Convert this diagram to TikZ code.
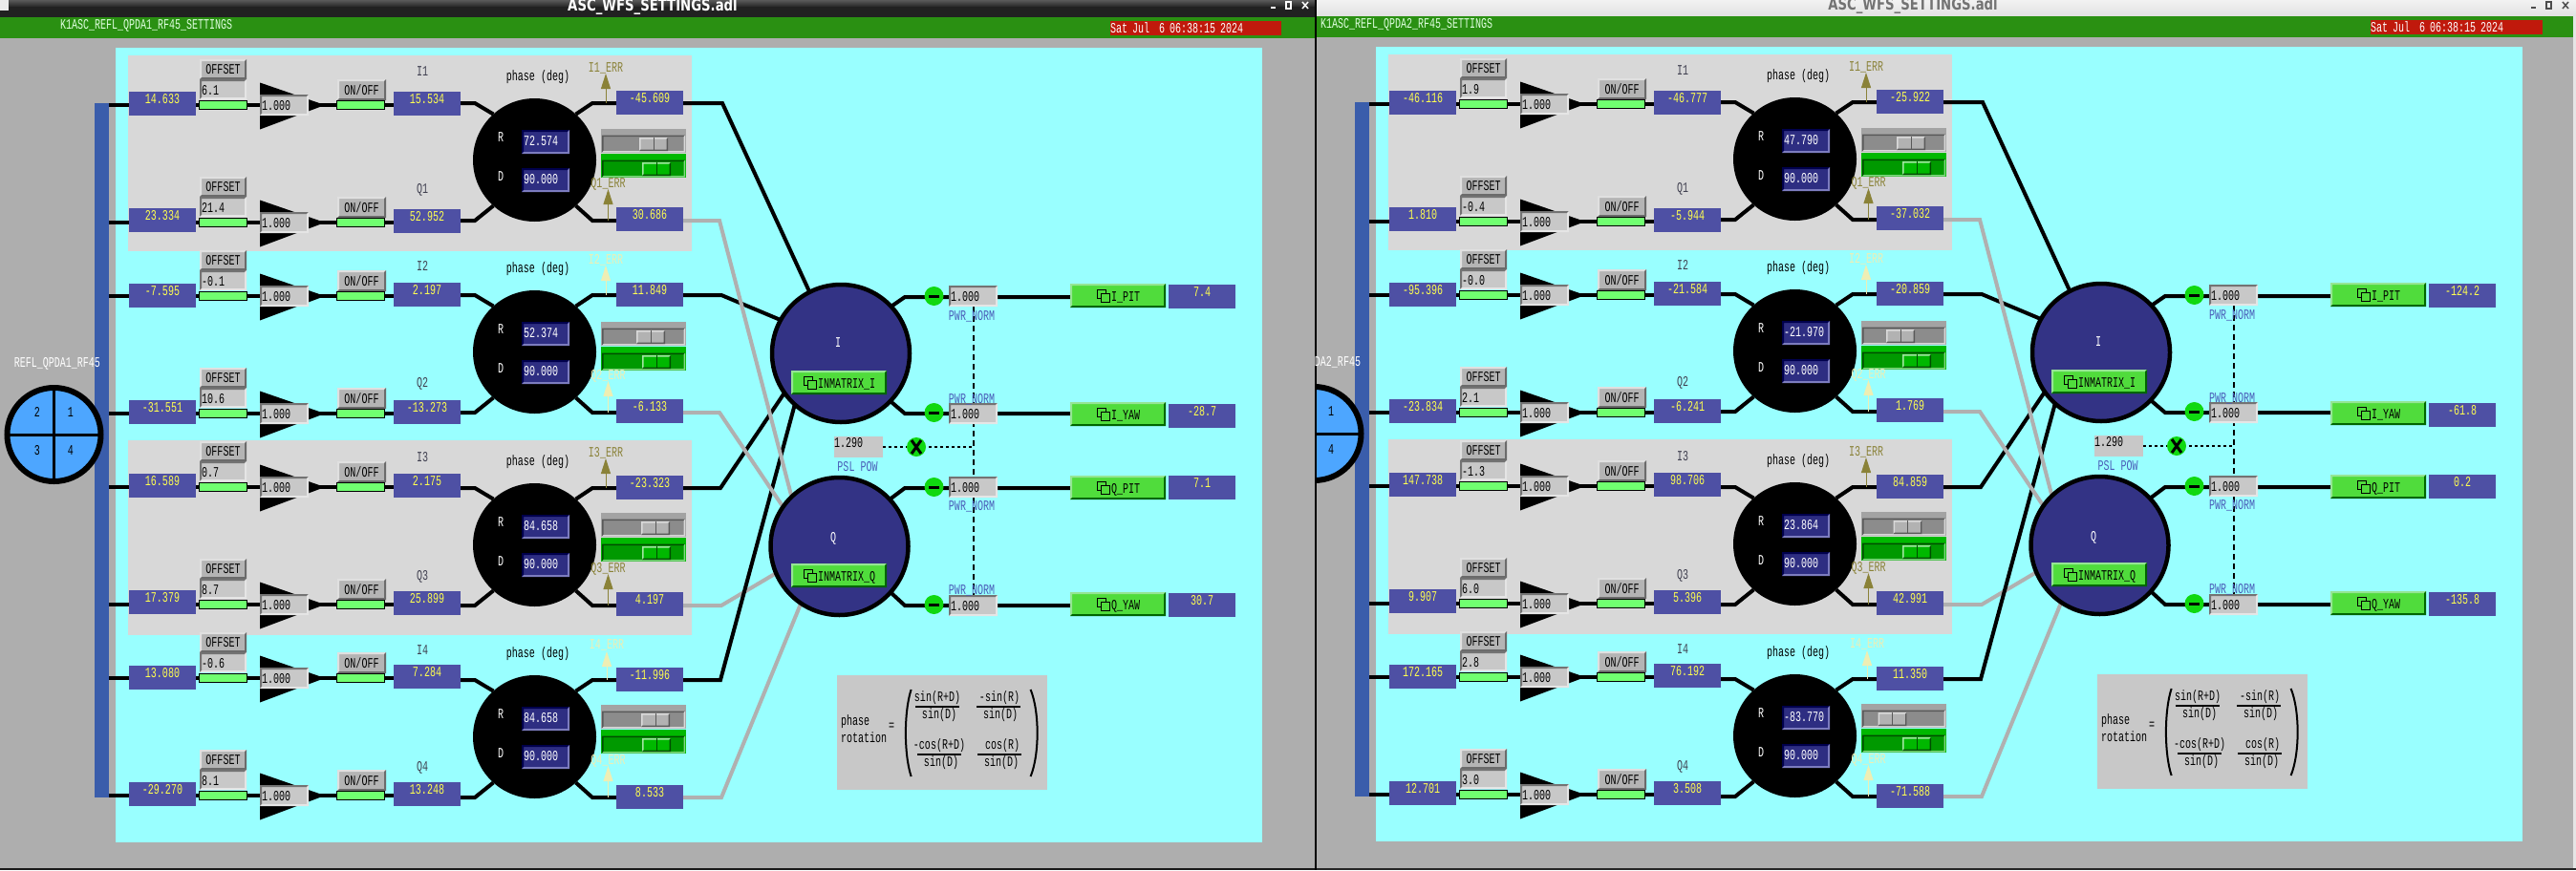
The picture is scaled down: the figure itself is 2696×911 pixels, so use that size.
\documentclass[tikz,border=0pt]{standalone}
\usepackage{fontspec}
\setmainfont[FakeStretch=0.667]{Liberation Mono}
\newfontfamily\wintitle[FakeStretch=0.78]{DejaVu Sans}
\usetikzlibrary{arrows.meta}
\newcommand{\fsz}{\fontsize{15}{15}\selectfont}

\definecolor{wingrey}{HTML}{AEAEAE}
\definecolor{cyanbg}{HTML}{99FFFF}
\definecolor{panelgrey}{HTML}{D8D8D8}
\definecolor{hdrgreen}{HTML}{2A9012}
\definecolor{datered}{HTML}{C0190C}
\definecolor{barblue}{HTML}{3A5DAB}
\definecolor{qpdblue}{HTML}{4DA6FF}
\definecolor{valblue}{HTML}{4E50A4}
\definecolor{valyellow}{HTML}{FFFF50}
\definecolor{matblue}{HTML}{333385}
\definecolor{entryblue}{HTML}{2E2E82}
\definecolor{entrygrey}{HTML}{C8C8C8}
\definecolor{btngrey}{HTML}{B4B4B4}
\definecolor{btngreen}{HTML}{50DC3C}
\definecolor{barbright}{HTML}{70FF70}
\definecolor{multgreen}{HTML}{10D810}
\definecolor{wiregrey}{HTML}{B0B0B0}
\definecolor{errolive}{HTML}{8A8238}
\definecolor{errpale}{HTML}{EEEEB4}
\definecolor{taggrey}{HTML}{404050}
\definecolor{normblue}{HTML}{4A5CB8}

\pgfdeclarelayer{back}
\pgfdeclarelayer{wires}
\pgfsetlayers{back,wires,main}

\tikzset{
	every node/.style={inner sep=0pt,outer sep=0pt,font=\fsz},
	bevel/.style n args={3}{path picture={
		\fill[#1] (path picture bounding box.south west) |- (path picture bounding box.north east) -- ++(-#3,#3) -| ([shift={(#3,-#3)}]path picture bounding box.south west) -- cycle;
		\fill[#2] (path picture bounding box.south west) -| (path picture bounding box.north east) -- ++(-#3,#3) |- ([shift={(#3,-#3)}]path picture bounding box.south west) -- cycle;
	}},
	wire/.style={line width=4pt},
	valbox/.style={anchor=north west,fill=valblue,text=valyellow,minimum width=70pt,text height=12pt,text depth=13pt},
	entrybox/.style={anchor=north west,fill=entrygrey,bevel={black!55}{white!90!black}{2},inner xsep=2pt,align=left,text height=16pt},
	rentry/.style={anchor=north west,fill=entryblue,text=white,bevel={black!70!blue}{blue!35!white!75!black}{2},inner xsep=2pt,text width=46pt,align=left,text height=16pt,text depth=9pt},
	greybtn/.style={anchor=north west,fill=btngrey,bevel={white!88!black}{black!58}{2},text depth=6pt},
	greenbtn/.style={anchor=north west,fill=btngreen,bevel={green!35!white!90!black}{green!40!black}{2},minimum width=100pt,text height=18pt,text depth=7pt},
	onbar/.style={anchor=west,fill=barbright,draw=black,line width=1pt,minimum width=50pt,minimum height=9pt},
	phasedisc/.style={circle,fill=black,minimum size=129pt},
	matdisc/.style={circle,fill=matblue,draw=black,line width=4.5pt,minimum size=144pt},
	multdisc/.style={circle,fill=multgreen,minimum size=20pt},
	lbl/.style={anchor=base},
	thumb/.style={anchor=north west,minimum width=30pt,minimum height=14pt},
}

% green related-display button with its icon
\newcommand{\rdbutton}[6]{
	\node[greenbtn] (#1) at (#2,#3) {\makebox[100pt][l]{\hspace{#5pt}#6}};
	\begin{scope}[shift={(#1.north west)}]
		\draw[line width=1pt] (#4,6) rectangle ++(9,9);
		\draw[line width=1pt,fill=btngreen] (#4+4,10) rectangle ++(9,9);
	\end{scope}
}

% pair of sliders next to a phase disc
\newcommand{\wfssliders}[3]{
	\node[anchor=north west,fill=black!36,minimum width=89pt,minimum height=25pt] (#1a) at (629,#2) {};
	\node[anchor=north west,fill=black!45,bevel={black!65}{white!85!black}{1.5},minimum width=87pt,minimum height=18pt] (#1b) at (630,#2+6.5) {};
	\node[thumb,fill=black!30,bevel={white!85!black}{black!65}{1.5}] (#1c) at (#3,#2+9) {};
	\draw[black!65,line width=1pt] (#1c.north) -- (#1c.south);
	\node[anchor=north west,fill=green!72!black,minimum width=89pt,minimum height=25pt] (#1d) at (629,#2+26) {};
	\node[anchor=north west,fill=green!60!black,bevel={green!30!black}{green!40!white!85!black}{1.5},minimum width=87pt,minimum height=18pt] (#1e) at (630,#2+32.5) {};
	\node[thumb,fill=green!72!black,bevel={green!30!white!90!black}{green!30!black}{1.5}] (#1f) at (672,#2+35) {};
	\draw[green!30!black,line width=1pt] (#1f.north) -- (#1f.south);
}

% one whole screen: #1 prefix, then value arrays
\newcommand{\wfspanel}[8]{
	\begin{pgfonlayer}{back}
		\fill[cyanbg] (121,50) rectangle (1321,882);
		\fill[panelgrey] (134,58) rectangle (724,263);
		\fill[panelgrey] (134,461) rectangle (724,665);
	\end{pgfonlayer}
	
	\node[anchor=north west,fill=barblue,minimum width=15pt,minimum height=727pt] (#1bar) at (99,108) {};
	
	%%%%% discs %%%%%
	\foreach \b/\cy/\py/\st in {1/167.5/84/135,2/368.5/285/337,3/570.5/487/537,4/771.5/688/738}{
		\pgfmathsetmacro\vr{#6[\b-1]}
		\pgfmathsetmacro\tb{#8[\b-1]}
		\node[phasedisc] (#1ph\b) at (559.5,\cy) {};
		\node[lbl,text=white] (#1rl\b) at (524,\cy-19.5) {R};
		\node[lbl,text=white] (#1dl\b) at (524,\cy+21.5) {D};
		\node[rentry,minimum width=50pt] (#1re\b) at (546,\cy-31.5) {\vr};
		\node[rentry,minimum width=50pt] (#1de\b) at (546,\cy+8.5) {90.000};
		\node[lbl] (#1pd\b) at (563,\py) {phase (deg)};
		\wfssliders{#1sl\b}{\st}{\tb}
	}
	
	%%%%% rows %%%%%
	\foreach \r/\chan/\ec/\wy/\lt/\mt/\ry/\rt/\ty/\ey/\tip/\ex in {
		1/I1/errolive/110/96/96/108/95/79/75/77/634,
		2/Q1/errolive/233/218/219/231/217/202/196/198/636.5,
		3/I2/errpale/310/297/296/309/296/283/276/278/634,
		4/Q2/errpale/433/419/419/432/418/405/397/399/636.5,
		5/I3/errolive/510/496/496/511/498/483/478/480/634,
		6/Q3/errolive/633/618/619/634/620/607/599/601/636.5,
		7/I4/errpale/710/697/696/712/699/685/679/682/635,
		8/Q4/errpale/833/819/819/835/822/807/800/802/636.5}{
		\pgfmathsetmacro\vin{#2[\r-1]}
		\pgfmathsetmacro\voff{#3[\r-1]}
		\pgfmathsetmacro\vmid{#4[\r-1]}
		\pgfmathsetmacro\verr{#5[\r-1]}
		\coordinate (#1w\r) at (114,\wy);
		\coordinate (#1out\r) at (715,\ry);
		\node[valbox] (#1in\r) at (135,\lt) {\vin};
		\node[greybtn,minimum width=49pt,text height=15pt] (#1ob\r) at (209,\wy-48) {OFFSET};
		\node[entrybox,text width=45pt,text depth=5pt] (#1oe\r) at (209,\wy-27) {\voff};
		\node[onbar] (#1gb\r) at (208.5,\wy) {};
		\fill (272,\wy-23.5) -- (272,\wy+25.5) -- (340,\wy) -- cycle;
		\node[entrybox,text width=47pt,text depth=6pt] (#1ge\r) at (272,\wy-11) {1.000};
		\node[greybtn,minimum width=51pt,text height=16pt] (#1sw\r) at (353,\wy-27) {ON/OFF};
		\node[onbar] (#1sb\r) at (352.5,\wy) {};
		\node[valbox] (#1mid\r) at (412,\mt) {\vmid};
		\node[lbl,text=taggrey] (#1tag\r) at (442,\ty) {\chan};
		\node[valbox] (#1err\r) at (645,\rt) {\verr};
		\node[lbl,text=\ec] (#1el\r) at (\ex,\ey) {\chan\_ERR};
		\coordinate (#1tip\r) at (\ex,\tip);
		\draw[\ec,line width=1pt,-{Triangle[length=16pt,width=10pt]}] (\ex,\ry) -- (#1tip\r);
		\begin{pgfonlayer}{wires}
			\draw[wire] (#1w\r) -- (#1w\r -| #1mid\r.west);
		\end{pgfonlayer}
	}
	
	%%%%% matrix %%%%%
	\node[matdisc] (#1matI) at (880,370) {};
	\node[matdisc] (#1matQ) at (878.5,572) {};
	\node[lbl,text=white] (#1il) at (877,363) {I};
	\node[lbl,text=white] (#1ql) at (872,567) {Q};
	\rdbutton{#1imx}{828}{388}{13}{28}{INMATRIX\_I}
	\rdbutton{#1qmx}{828}{590}{13}{28}{INMATRIX\_Q}
	
	\begin{pgfonlayer}{wires}
		\foreach \b/\ri/\rq in {1/1/2,2/3/4,3/5/6,4/7/8}{
			\draw[wire] (#1mid\ri.east |- #1out\ri) -- ++(15,0) -- (#1ph\b.132);
			\draw[wire] (#1mid\rq.east |- #1out\rq) -- ++(15,0) -- (#1ph\b.228);
			\draw[wire] (#1err\ri.west |- #1out\ri) -- ++(-25,0) -- (#1ph\b.48);
			\draw[wire] (#1err\rq.west |- #1out\rq) -- ++(-25,0) -- (#1ph\b.-48);
		}
		\foreach \r/\dx/\tgt/\col in {6/40/matQ.203/wiregrey,1/41/matI.117/black,3/40/matI.151/black,5/39/matI.215/black,7/39/matI.228/black,2/38/matQ.134/wiregrey,4/38/matQ.145/wiregrey,8/40/matQ.236/wiregrey}{
			\draw[wire,\col] (#1out\r) -- ++(\dx,0) -- (#1\tgt);
		}
	\end{pgfonlayer}
	
	%%%%% outputs %%%%%
	\foreach \o/\nm/\src/\wy/\et/\bt/\ot/\py in {1/I\_PIT/matI.43/311/299/297/298/335,2/I\_YAW/matI.-44/433/422/421/423/422,3/Q\_PIT/matQ.43/511/499/498/498/534,4/Q\_YAW/matQ.-42/634/623/620/621/622}{
		\pgfmathsetmacro\vout{#7[\o-1]}
		\coordinate (#1k\o) at (947,\wy);
		\node[multdisc] (#1mu\o) at (977.5,\wy-1) {};
		\draw[line width=3pt] (#1mu\o.center) ++(-5.5,0) -- ++(11,0);
		\node[entrybox,text width=47pt,text depth=6pt] (#1pw\o) at (993,\et) {1.000};
		\node[lbl,text=normblue] (#1pl\o) at (1017,\py) {PWR\_NORM};
		\rdbutton{#1bn\o}{1120}{\bt}{28}{43}{\nm}
		\node[valbox] (#1rd\o) at (1223,\ot) {\vout};
		\begin{pgfonlayer}{wires}
			\draw[wire] (#1\src) -- (#1k\o) -- (#1k\o -| #1bn\o.west);
		\end{pgfonlayer}
	}
	
	%%%%% power norm %%%%%
	\node[anchor=north west,fill=entrygrey,text width=51pt,align=left,text height=11pt,text depth=11pt] (#1psl) at (873,457) {1.290};
	\node[lbl,text=normblue] (#1pp) at (897.5,493) {PSL POW};
	\node[multdisc] (#1xx) at (959,468) {};
	\draw[line width=3pt] (#1xx.center) ++(-5,-7) -- ++(10,14) (#1xx.center) ++(5,-7) -- ++(-10,14);
	\begin{pgfonlayer}{wires}
		\draw[line width=2pt,dash pattern=on 3pt off 3pt] (#1psl.east) -- (#1psl.east -| #1pw1.south);
		\draw[line width=2pt,dash pattern=on 6pt off 4pt] (#1pw1.south) -- (#1pw4.north);
	\end{pgfonlayer}
	
	%%%%% rotation note %%%%%
	\node[anchor=north west,fill=entrygrey,minimum width=220pt,minimum height=120pt] (#1note) at (876,707) {};
	\node[anchor=base west] (#1nt) at (880,759) {phase};
	\node[anchor=base west] (#1nr) at (880,777) {rotation};
	\node[lbl] (#1eq) at (933,764) {=};
	\draw[line width=2pt] (953.6,722) .. controls (946,745) and (946,790) .. (953.6,813);
	\draw[line width=2pt] (1078.6,722) .. controls (1088,745) and (1088,790) .. (1078.6,813);
	\foreach \c/\num/\nx/\dx/\ny/\x/\y in {1/sin(R+D)/981/983/734/958/740,2/-sin(R)/1046/1047/734/1022/740,3/-cos(R+D)/983/985/784/960/790,4/cos(R)/1049/1048/784/1023/790}{
		\node[lbl] (#1fn\c) at (\nx,\ny) {\num};
		\node[lbl] (#1fd\c) at (\dx,\ny+18) {sin(D)};
		\draw[line width=1.2pt] (\x,\y) -- ++(46,0);
	}
}

\def\inA{{"14.633","23.334","-7.595","-31.551","16.589","17.379","13.080","-29.270"}}
\def\offA{{"6.1","21.4","-0.1","10.6","0.7","8.7","-0.6","8.1"}}
\def\midA{{"15.534","52.952","2.197","-13.273","2.175","25.899","7.284","13.248"}}
\def\errA{{"-45.609","30.686","11.849","-6.133","-23.323","4.197","-11.996","8.533"}}
\def\rotA{{"72.574","52.374","84.658","84.658"}}
\def\outA{{"7.4","-28.7","7.1","30.7"}}
\def\tbA{{669,666,671,671}}

\def\inB{{"-46.116","1.810","-95.396","-23.834","147.738","9.907","172.165","12.701"}}
\def\offB{{"1.9","-0.4","-0.0","2.1","-1.3","6.0","2.8","3.0"}}
\def\midB{{"-46.777","-5.944","-21.584","-6.241","98.706","5.396","76.192","3.508"}}
\def\errB{{"-25.922","-37.032","-20.859","1.769","84.859","42.991","11.350","-71.588"}}
\def\rotB{{"47.790","-21.970","23.864","-83.770"}}
\def\outB{{"-124.2","-61.8","0.2","-135.8"}}
\def\tbB{{666,655,662.5,646.5}}

\begin{document}
\begin{tikzpicture}[x=1pt,y=-1pt]
	\useasboundingbox (0,0) rectangle (2696,911);
	
	%%%%% windows %%%%%
	\begin{pgfonlayer}{back}
		\fill[wingrey] (0,0) rectangle (2696,911);
		\shade[top color=black!65,bottom color=black!85] (0,0) rectangle (1376,7);
		\fill[black!87] (0,7) rectangle (1376,18);
		\fill[hdrgreen] (0,18) rectangle (1376,40);
		\fill[black!8] (0,0) rectangle (9,11);
		\fill[black] (1376,0) rectangle (1378,911);
		\fill[black!90] (0,909) rectangle (1376,911);
		\shade[top color=black!5,bottom color=black!12] (1378,0) rectangle (2696,17);
		\fill[hdrgreen] (1378,17) rectangle (2693,39);
		\fill[black!10] (2693,17) rectangle (2696,911);
		\fill[black!85] (1378,909) rectangle (2696,911);
	\end{pgfonlayer}
	
	\node[anchor=base,text=white] (atitle) at (683,11) {\wintitle\bfseries\fontsize{17}{17}\selectfont ASC\_WFS\_SETTINGS.adl};
	\node[anchor=base,text=black!55] (btitle) at (2002,10) {\wintitle\bfseries\fontsize{17}{17}\selectfont ASC\_WFS\_SETTINGS.adl};
	
	\foreach \w/\c in {1332/white,2651/black!70}{
		\fill[\c] (\w-2,7) rectangle ++(5,2);
		\draw[\c,line width=1.2pt] (\w+14,2) rectangle ++(5,7);
		\draw[\c,line width=1.5pt] (\w+31,2) -- ++(6,7) (\w+37,2) -- ++(-6,7);
	}
	
	%%%%% left screen %%%%%
	\node[anchor=base west,text=white!88!green] (ahead) at (63,30) {K1ASC\_REFL\_QPDA1\_RF45\_SETTINGS};
	\node[anchor=north west,fill=datered,text=white,text width=179pt,align=left,text height=12pt,text depth=3pt] (adate) at (1162,22) {Sat Jul\ \ 6 06:38:15 2024};
	\wfspanel{a}{\inA}{\offA}{\midA}{\errA}{\rotA}{\outA}{\tbA}
	
	\node[circle,fill=qpdblue,draw=black,line width=6pt,minimum size=98pt] (aqpd) at (56.5,455) {};
	\draw[line width=3pt] (aqpd.north) -- (aqpd.south);
	\draw[line width=3pt] (aqpd.west) -- (aqpd.east);
	\node[lbl] (aq2) at (39,436) {2};
	\node[lbl] (aq1) at (74,436) {1};
	\node[lbl] (aq3) at (39,476) {3};
	\node[lbl] (aq4) at (74,476) {4};
	\node[anchor=base east,text=white] (aname) at (105,384) {REFL\_QPDA1\_RF45};
	
	%%%%% right screen %%%%%
	\begin{scope}[xshift=1319pt,yshift=1pt]
		\node[anchor=base west,text=white!88!green] (bhead) at (63,30) {K1ASC\_REFL\_QPDA2\_RF45\_SETTINGS};
		\node[anchor=north west,fill=datered,text=white,text width=180pt,align=left,text height=12pt,text depth=3pt] (bdate) at (1162,22) {Sat Jul\ \ 6 06:38:15 2024};
		\wfspanel{b}{\inB}{\offB}{\midB}{\errB}{\rotB}{\outB}{\tbB}
		
		\begin{scope}
			\clip (59,0) rectangle (200,911);
			\node[circle,fill=qpdblue,draw=black,line width=6pt,minimum size=98pt] (bqpd) at (56.5,455) {};
			\draw[line width=3pt] (bqpd.north) -- (bqpd.south);
			\draw[line width=3pt] (bqpd.west) -- (bqpd.east);
		\end{scope}
		\node[lbl] (bq1) at (74,436) {1};
		\node[lbl] (bq4) at (74,476) {4};
		\node[anchor=base east,text=white] (bname) at (105,384) {DA2\_RF45};
	\end{scope}
\end{tikzpicture}
\end{document}
